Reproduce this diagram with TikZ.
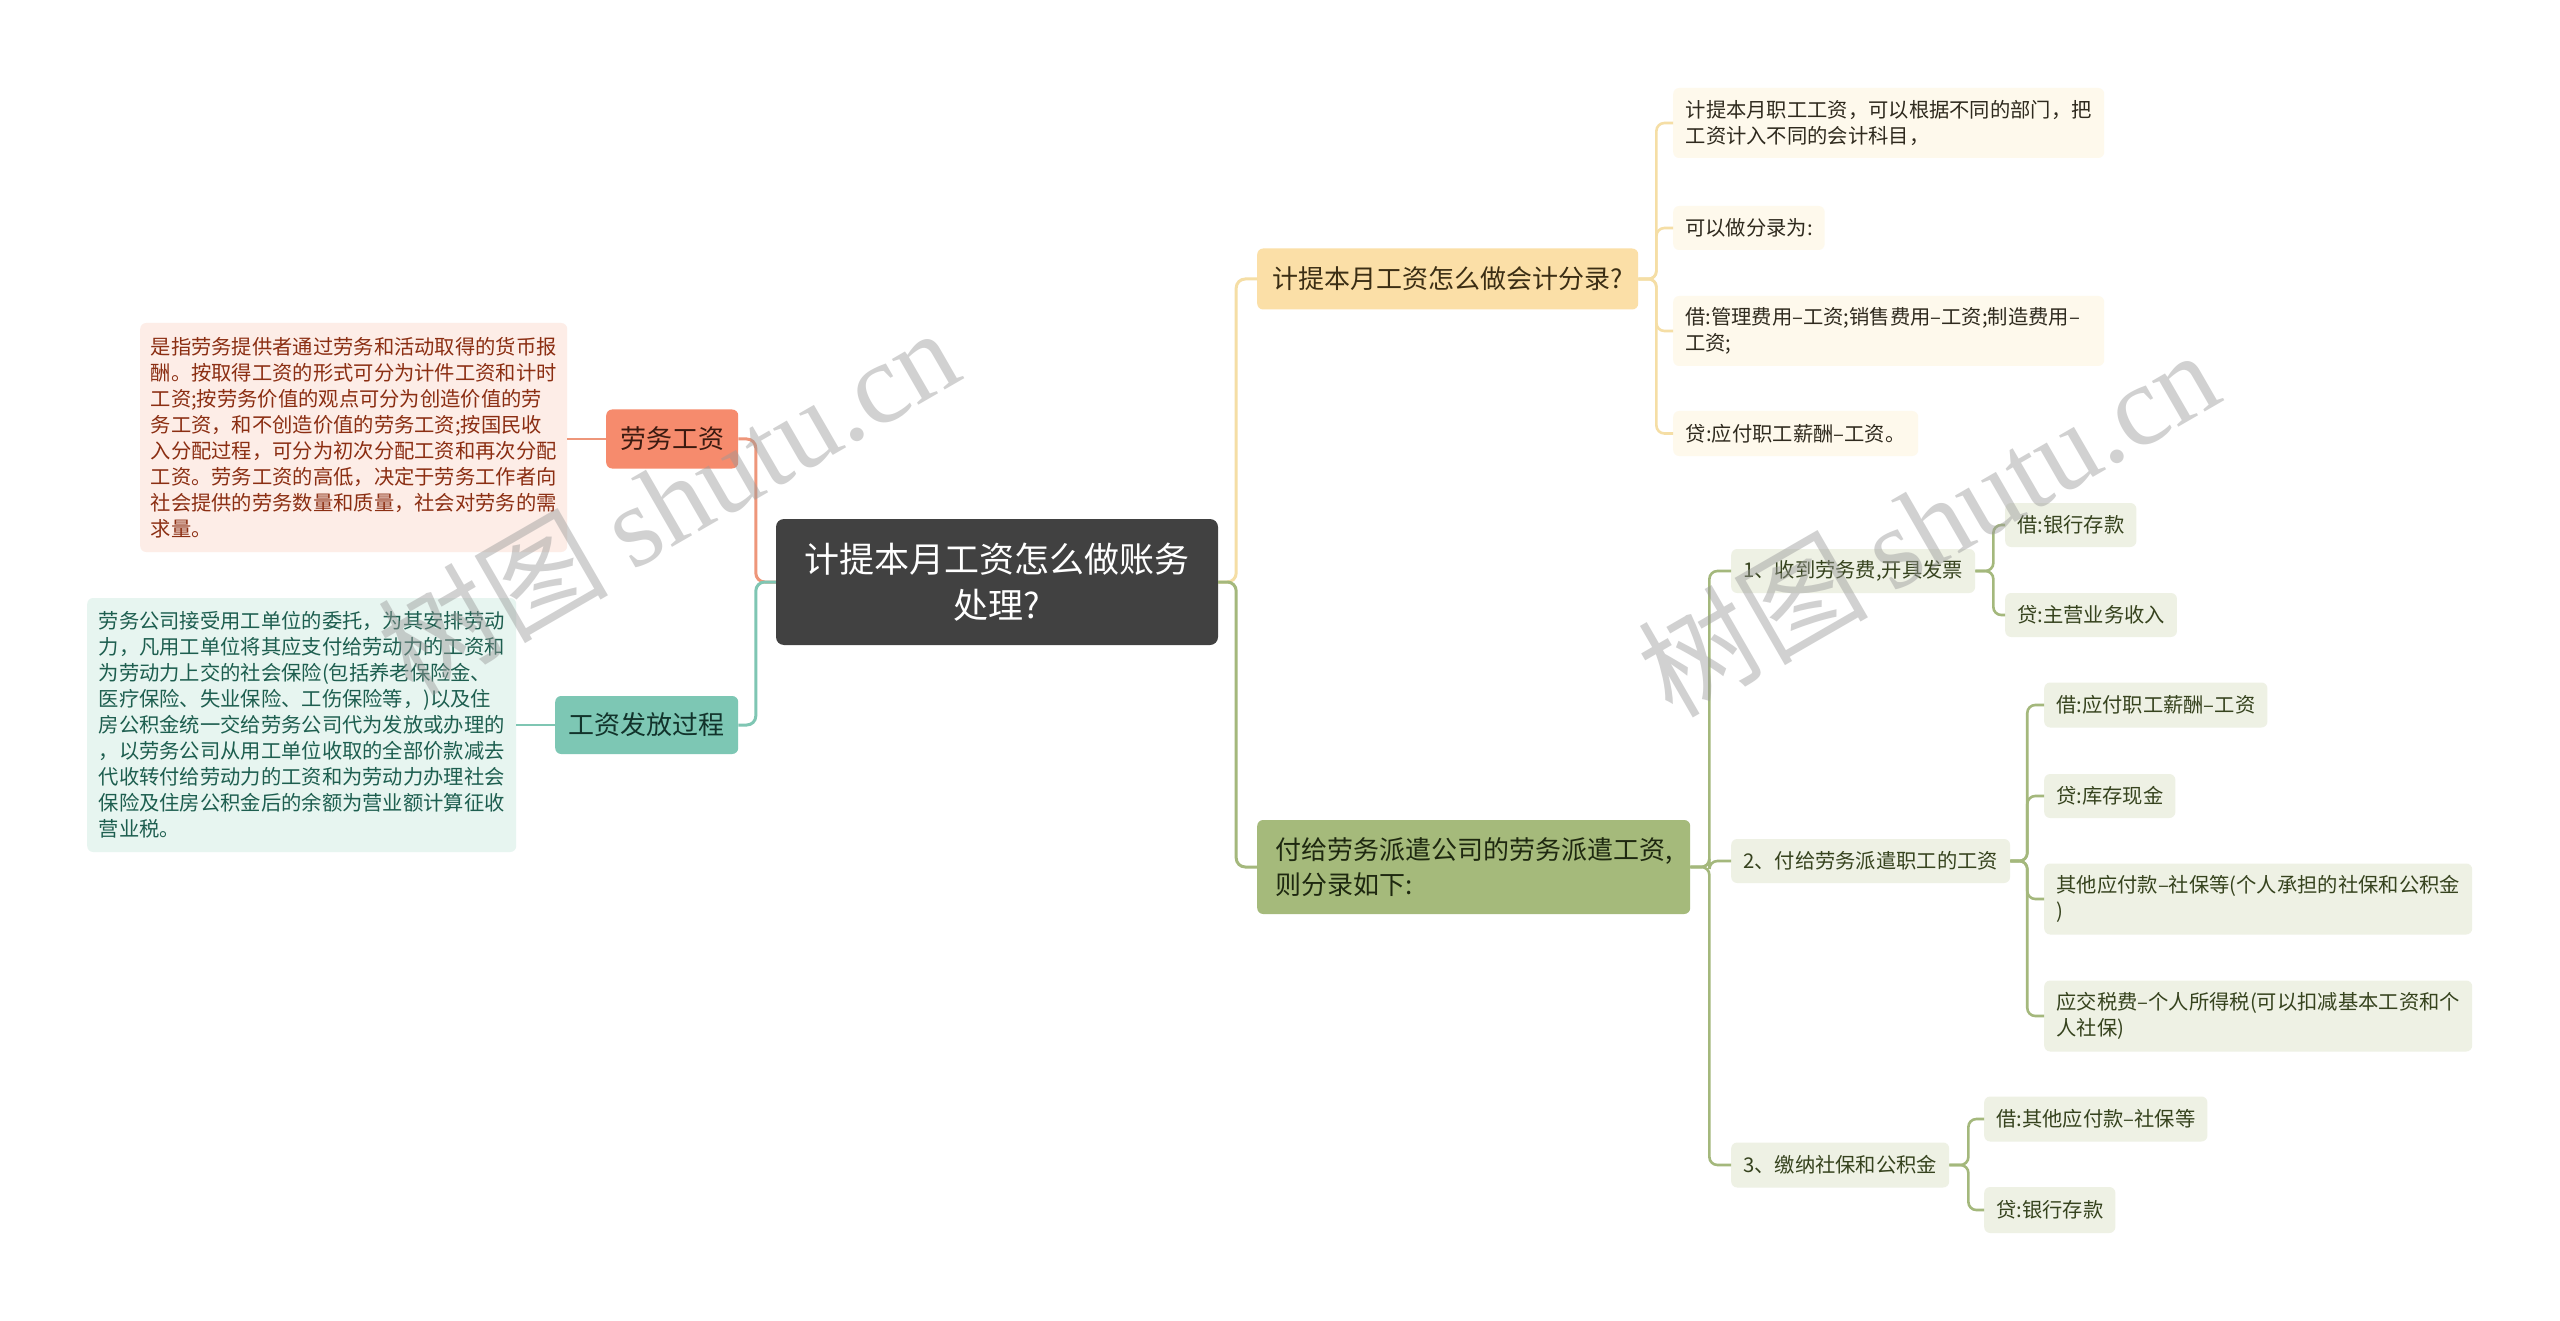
\documentclass[tikz,border=0pt]{standalone}
\usepackage{fontspec}
\setmainfont{Noto Sans CJK SC}
\newfontfamily\wmlatin{Liberation Serif}
\usetikzlibrary{calc}
\definecolor{rootfill}{HTML}{414141}
\definecolor{lwfill}{HTML}{F68B6D}
\definecolor{lwline}{HTML}{EE967A}
\definecolor{lwtext}{HTML}{3B1A10}
\definecolor{dafill}{HTML}{FDEDE7}
\definecolor{datext}{HTML}{8B2E12}
\definecolor{gffill}{HTML}{7DC7B4}
\definecolor{gfline}{HTML}{7FC6B3}
\definecolor{gftext}{HTML}{12332B}
\definecolor{dbfill}{HTML}{E7F5F0}
\definecolor{dbtext}{HTML}{1D5E4F}
\definecolor{afill}{HTML}{FBDFA7}
\definecolor{aline}{HTML}{F5DEA5}
\definecolor{atext}{HTML}{3B2E14}
\definecolor{ayfill}{HTML}{FEF9EC}
\definecolor{aytext}{HTML}{2F2A1E}
\definecolor{bfill}{HTML}{A5BA7B}
\definecolor{bline}{HTML}{A4B87C}
\definecolor{btext}{HTML}{1E2810}
\definecolor{bgfill}{HTML}{EEF1E4}
\definecolor{bgtext}{HTML}{36431E}
\tikzset{
  base/.style={anchor=west, rounded corners=6pt, inner xsep=12pt, inner ysep=0pt, align=left},
  sz/.style 2 args={minimum width=#1pt, minimum height=#2pt},
  leaf/.style={base, font=\fontsize{20.3}{26}\selectfont},
  yleaf/.style={leaf, fill=ayfill, text=aytext},
  gleaf/.style={leaf, fill=bgfill, text=bgtext},
  mid/.style={base, font=\fontsize{26}{35}\selectfont},
  desc/.style={base, inner xsep=10pt, font=\fontsize{20.3}{26}\selectfont},
  conn/.style={line width=3pt, rounded corners=9pt},
  subconn/.style={line width=2.6pt, rounded corners=8pt},
  wm/.style={text=black!40, text opacity=0.45, font=\fontsize{115}{115}\selectfont, inner sep=0pt}
}
\begin{document}
\begin{tikzpicture}[x=1pt, y=-1pt]
\fill[white] (0,0) rectangle (2560,1321);
\path[use as bounding box] (0,0) rectangle (2560,1321);

% root
\node[base, anchor=center, align=center, fill=rootfill, text=white, rounded corners=8pt,
      font=\fontsize{35}{46}\selectfont, sz={442}{126}] (root) at (997,582)
      {计提本月工资怎么做账务\\处理?};

% left side
\node[mid, fill=lwfill, text=lwtext, sz={132}{59}] (lw) at (606,439) {劳务工资};
\node[mid, fill=gffill, text=gftext, sz={183}{58}] (gf) at (555,725) {工资发放过程};
\node[desc, fill=dafill, text=datext, sz={427}{229}] (d1) at (140,437.5)
 {是指劳务提供者通过劳务和活动取得的货币报\\
  酬。按取得工资的形式可分为计件工资和计时\\
  工资;按劳务价值的观点可分为创造价值的劳\\
  务工资，和不创造价值的劳务工资;按国民收\\
  入分配过程，可分为初次分配工资和再次分配\\
  工资。劳务工资的高低，决定于劳务工作者向\\
  社会提供的劳务数量和质量，社会对劳务的需\\
  求量。};
\node[desc, fill=dbfill, text=dbtext, sz={429}{254}] (d2) at (87,725)
 {劳务公司接受用工单位的委托，为其安排劳动\\
  力，凡用工单位将其应支付给劳动力的工资和\\
  为劳动力上交的社会保险(包括养老保险金、\\
  医疗保险、失业保险、工伤保险等，)以及住\\
  房公积金统一交给劳务公司代为发放或办理的\\
  ，以劳务公司从用工单位收取的全部价款减去\\
  代收转付给劳动力的工资和为劳动力办理社会\\
  保险及住房公积金后的余额为营业额计算征收\\
  营业税。};

% right side, level 1
\node[mid, fill=afill, text=atext, sz={381}{61}] (a) at (1257,279) {计提本月工资怎么做会计分录?};
\node[mid, fill=bfill, text=btext, sz={433}{94}] (b) at (1257,867)
 {付给劳务派遣公司的劳务派遣工资,\\则分录如下:};

% A children
\node[yleaf, sz={431}{70}] (a1) at (1673,123)
 {计提本月职工工资，可以根据不同的部门，把\\工资计入不同的会计科目，};
\node[yleaf, sz={149}{44}] (a2) at (1673,228) {可以做分录为:};
\node[yleaf, sz={431}{70}, text width=407pt] (a3) at (1673,331)
 {借:管理费用–工资;销售费用–工资;制造费用–\\工资;};
\node[yleaf, sz={245}{45}] (a4) at (1673,433.5) {贷:应付职工薪酬–工资。};

% B children
\node[gleaf, sz={236}{44}] (b1) at (1731,571) {1、收到劳务费,开具发票};
\node[gleaf, sz={274}{44}] (b2) at (1731,861) {2、付给劳务派遣职工的工资};
\node[gleaf, sz={214}{45}] (b3) at (1731,1165) {3、缴纳社保和公积金};

\node[gleaf, sz={127}{44}] (b1a) at (2005,525) {借:银行存款};
\node[gleaf, sz={168}{44}] (b1b) at (2005,615) {贷:主营业务收入};

\node[gleaf, sz={221}{45}] (b2a) at (2044,705) {借:应付职工薪酬–工资};
\node[gleaf, sz={127}{44}] (b2b) at (2044,796) {贷:库存现金};
\node[gleaf, sz={428}{71}] (b2c) at (2044,899)
 {其他应付款–社保等(个人承担的社保和公积金\\)};
\node[gleaf, sz={428}{71}] (b2d) at (2044,1016)
 {应交税费–个人所得税(可以扣减基本工资和个\\人社保)};

\node[gleaf, sz={221}{45}] (b3a) at (1984,1119) {借:其他应付款–社保等};
\node[gleaf, sz={127}{46}] (b3b) at (1984,1210) {贷:银行存款};

% connectors: root to level 1
\draw[conn, lwline] (root.west) -- ++(-20,0) |- (lw.east);
\draw[conn, gfline] (root.west) -- ++(-20,0) |- (gf.east);
\draw[conn, aline] (root.east) -- ++(18,0) |- (a.west);
\draw[conn, bline] (root.east) -- ++(18,0) |- (b.west);

% left descriptions
\draw[subconn, lwline] (lw.west) -- (lw.west -| d1.east);
\draw[subconn, gfline] (gf.west) -- (gf.west -| d2.east);

% A branch
\foreach \c in {a1,a2,a3,a4}
  \draw[subconn, aline] (a.east) -- ++(18,0) |- (\c.west);

% B branch
\foreach \c in {b1,b2,b3}
  \draw[subconn, bline] (b.east) -- ++(19,0) |- (\c.west);
\foreach \c in {b1a,b1b}
  \draw[subconn, bline] (b1.east) -- ++(18,0) |- (\c.west);
\foreach \c in {b2a,b2b,b2c,b2d}
  \draw[subconn, bline] (b2.east) -- ++(17,0) |- (\c.west);
\foreach \c in {b3a,b3b}
  \draw[subconn, bline] (b3.east) -- ++(19,0) |- (\c.west);

% watermarks
\node[wm, rotate=30] (wm1) at (668,500) {树图\hspace{0.2em}{\wmlatin shutu.cn}};
\node[wm, rotate=30] (wm2) at (1928,522) {树图\hspace{0.2em}{\wmlatin shutu.cn}};
\end{tikzpicture}
\end{document}
